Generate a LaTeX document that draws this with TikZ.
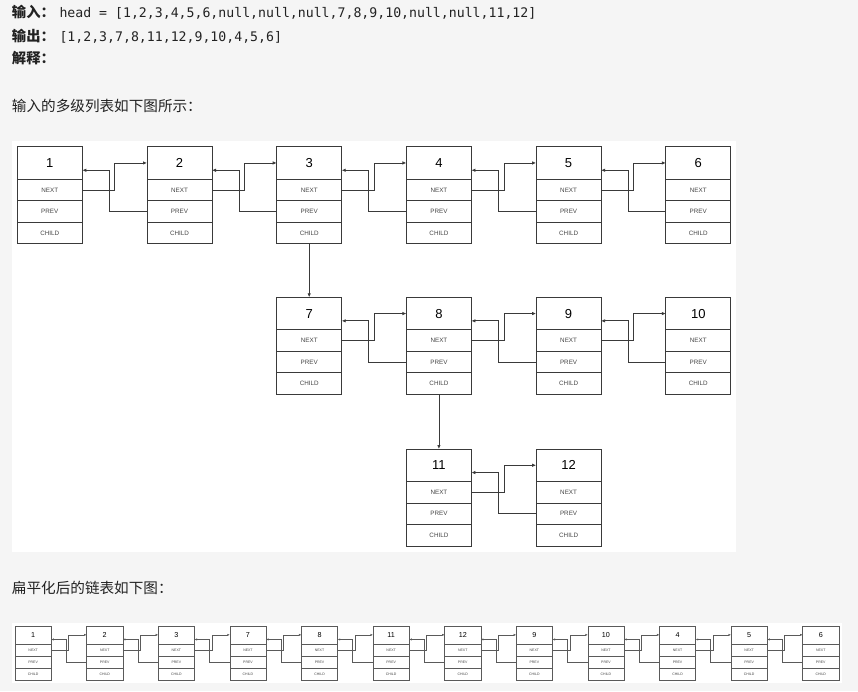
\documentclass[tikz,border=0pt]{standalone}
\usepackage{fontspec}
\setmainfont{Liberation Sans}
\newfontfamily\cjk{Noto Sans CJK SC}
\newfontfamily\monof{DejaVu Sans Mono}
\usetikzlibrary{arrows.meta}
\definecolor{pagebg}{HTML}{F5F5F5}
\definecolor{ink}{HTML}{222222}
\definecolor{boxline}{HTML}{3A3A3A}
\definecolor{sboxline}{HTML}{5A5A5A}
\definecolor{labelgray}{HTML}{444444}
\tikzset{
  cjkb/.style={inner sep=0pt, outer sep=0pt, text=ink, font=\cjk\bfseries\fontsize{14.3}{14.3}\selectfont},
  cjkt/.style={inner sep=0pt, outer sep=0pt, text=ink, font=\cjk\fontsize{14.6}{14.6}\selectfont},
  monot/.style={inner sep=0pt, outer sep=0pt, text=ink, font=\monof\fontsize{13.2}{13.2}\selectfont},
  bhead/.style={draw=boxline, line width=0.8pt, fill=white, minimum width=65pt, minimum height=32.5pt, inner sep=0pt, outer sep=0pt, font=\fontsize{13}{13}\selectfont, text=black},
  brow/.style={draw=boxline, line width=0.8pt, fill=white, minimum width=65pt, minimum height=21.5pt, inner sep=0pt, outer sep=0pt, font=\fontsize{6.3}{6.3}\selectfont, text=labelgray},
  shead/.style={draw=sboxline, line width=0.45pt, fill=white, minimum width=36.3pt, minimum height=18.1pt, inner sep=0pt, outer sep=0pt, font=\fontsize{7.2}{7.2}\selectfont, text=black},
  srow/.style={draw=sboxline, line width=0.45pt, fill=white, minimum width=36.3pt, minimum height=12pt, inner sep=0pt, outer sep=0pt, font=\fontsize{3.5}{3.5}\selectfont, text=labelgray},
  bconn/.style={draw=boxline, line width=0.8pt, -{Latex[length=4pt,width=3.5pt]}},
  sconn/.style={draw=sboxline, line width=0.45pt, -{Latex[length=2.5pt,width=2.2pt]}},
}
\newcommand\bignode[4]{%
  \node[bhead, anchor=north west] (#1h) at (#2,#3) {#4};
  \node[brow, anchor=north] (#1n) at (#1h.south) {NEXT};
  \node[brow, anchor=north] (#1p) at (#1n.south) {PREV};
  \node[brow, anchor=north] (#1c) at (#1p.south) {CHILD};
}
\newcommand\smallnode[4]{%
  \node[shead, anchor=north west] (#1h) at (#2,#3) {#4};
  \node[srow, anchor=north] (#1n) at (#1h.south) {NEXT};
  \node[srow, anchor=north] (#1p) at (#1n.south) {PREV};
  \node[srow, anchor=north] (#1c) at (#1p.south) {CHILD};
}
\newcommand\bigpair[2]{%
  \draw[bconn] (#1n.east) -- ++(32.5,0) |- (#2h.west);
  \draw[bconn] (#2p.west) -- ++(-37.7,0) |- ([yshift=-7.3pt]#1h.east);
}
\newcommand\smallpair[2]{%
  \draw[sconn] (#1n.east) -- ++(17.4,0) |- (#2h.west);
  \draw[sconn] (#2p.west) -- ++(-20.3,0) |- ([yshift=-4.6pt]#1h.east);
}
\begin{document}
\begin{tikzpicture}[x=1pt, y=-1pt]
\useasboundingbox (0,0) rectangle (858,691);
\fill[pagebg] (0,0) rectangle (858,691);
% text lines
\node[cjkb, anchor=base west] (lin) at (12,17.8) {输入：};
\node[monot, anchor=base west] (vin) at (59.5,17.8) {head = [1,2,3,4,5,6,null,null,null,7,8,9,10,null,null,11,12]};
\node[cjkb, anchor=base west] (lout) at (12,41.3) {输出：};
\node[monot, anchor=base west] (vout) at (59.5,41.3) {[1,2,3,7,8,11,12,9,10,4,5,6]};
\node[cjkb, anchor=base west] (lexp) at (12,63.8) {解释：};
\node[cjkt, anchor=base west] (cap1) at (12,111.5) {输入的多级列表如下图所示：};
\node[cjkt, anchor=base west] (cap2) at (12,593.8) {扁平化后的链表如下图：};
% panels
\fill[white] (12,141) rectangle (736,552);
\fill[white] (12,622.5) rectangle (842,683);
% top multilevel list
\bignode{t1}{17.3}{146.7}{1}
\bignode{t2}{147}{146.7}{2}
\bignode{t3}{276.7}{146.7}{3}
\bignode{t4}{406.4}{146.7}{4}
\bignode{t5}{536.1}{146.7}{5}
\bignode{t6}{665.8}{146.7}{6}
\bignode{t7}{276.7}{297.3}{7}
\bignode{t8}{406.4}{297.3}{8}
\bignode{t9}{536.1}{297.3}{9}
\bignode{t10}{665.8}{297.3}{10}
\bignode{t11}{406.4}{449}{11}
\bignode{t12}{536.1}{449}{12}
\bigpair{t1}{t2}
\bigpair{t2}{t3}
\bigpair{t3}{t4}
\bigpair{t4}{t5}
\bigpair{t5}{t6}
\bigpair{t7}{t8}
\bigpair{t8}{t9}
\bigpair{t9}{t10}
\bigpair{t11}{t12}
\draw[bconn] (t3c.south) -- (t7h.north);
\draw[bconn] (t8c.south) -- (t11h.north);
% flattened list
\foreach \v [count=\i from 0] in {1,2,3,7,8,11,12,9,10,4,5,6} {
  \smallnode{b\i}{{15+\i*71.6}}{625.8}{\v}
}
\foreach \i in {0,...,10} {
  \pgfmathtruncatemacro\j{\i+1}
  \smallpair{b\i}{b\j}
}
\end{tikzpicture}
\end{document}
